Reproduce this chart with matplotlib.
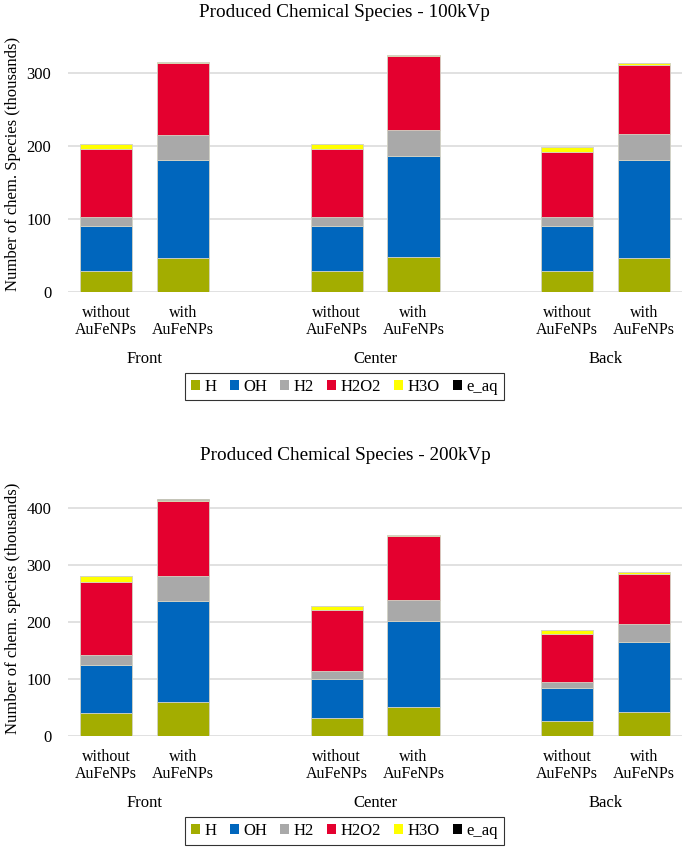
import numpy as np
import matplotlib.pyplot as plt
from matplotlib.transforms import blended_transform_factory

plt.rcParams['font.family'] = ['Liberation Serif', 'DejaVu Serif']

# bar order: Front w/o, Front with, Center w/o, Center with, Back w/o, Back with
bar_labels = ['without\nAuFeNPs', 'with\nAuFeNPs'] * 3
groups = ['Front', 'Center', 'Back']
species = ['H', 'OH', 'H2', 'H2O2', 'H3O', 'e_aq']
colors = ['#A3AD00', '#0066BD', '#A9A9A9', '#E4002F', '#FFFF00', '#000000']

# 100 kVp (thousands)
H_100 = [28.8, 46.6, 28.8, 47.5, 28.8, 46.1]
OH_100 = [62.1, 134.7, 62.1, 138.8, 61.2, 135.2]
H2_100 = [12.3, 34.2, 11.8, 35.2, 12.3, 34.7]
H2O2_100 = [92.7, 98.2, 93.2, 101.3, 89.0, 95.0]
H3O_100 = [6.8, 1.8, 6.4, 2.2, 7.3, 2.2]
eaq_100 = [0.2, 0.2, 0.2, 0.2, 0.2, 0.2]

# 200 kVp (thousands)
H_200 = [39.9, 59.8, 31.7, 51.0, 26.4, 42.2]
OH_200 = [85.6, 176.6, 68.0, 150.2, 58.1, 123.2]
H2_200 = [17.0, 45.1, 14.7, 38.1, 10.5, 30.5]
H2O2_200 = [127.3, 131.4, 106.7, 112.0, 85.0, 89.1]
H3O_200 = [10.6, 2.3, 6.5, 1.7, 6.5, 2.4]
eaq_200 = [0.3, 0.3, 0.3, 0.3, 0.3, 0.3]

# one blank slot between location groups
xpos = np.array([0, 1, 3, 4, 6, 7])


def draw(ax, series, title, ylabel, ymax, step):
    bottom = np.zeros(len(xpos))
    for name, vals, c in zip(species, series, colors):
        ax.bar(xpos, vals, 0.68, bottom=bottom, color=c, label=name,
               edgecolor='#D2D2C4', linewidth=0.6, zorder=3)
        bottom += np.array(vals)
    ax.set_xlim(-0.5, 7.5)
    ax.set_ylim(0, ymax)
    ax.set_yticks(np.arange(0, ymax, step))
    ax.grid(axis='y', color='#D9D9D9', linewidth=1.1, zorder=0)
    for s in ax.spines.values():
        s.set_visible(False)
    ax.tick_params(length=0, labelsize=12)
    ax.tick_params(axis='y', pad=12)
    ax.set_xticks(xpos)
    ax.set_xticklabels(bar_labels, fontsize=11.5, linespacing=1.15)
    ax.tick_params(axis='x', pad=9)
    ax.set_title(title, fontsize=13.8, pad=14, x=0.451)
    ax.set_ylabel(ylabel, fontsize=12, labelpad=4)
    tr = blended_transform_factory(ax.transData, ax.transAxes)
    for g, x in zip(groups, [0.5, 3.5, 6.5]):
        ax.text(x, -0.262, g, transform=tr, ha='center', va='center', fontsize=12)
    leg = ax.legend(loc='center', bbox_to_anchor=(0.45, -0.37), ncol=6,
                    fontsize=12, frameon=True, fancybox=False, edgecolor='black',
                    handlelength=0.55, handleheight=0.55, handletextpad=0.25,
                    columnspacing=0.8, borderpad=0.35)
    leg.get_frame().set_linewidth(0.8)
    for h in leg.legend_handles:
        h.set_edgecolor('none')


fig = plt.figure(figsize=(6.85, 8.49), dpi=100)
ax1 = fig.add_axes([0.099, 0.656, 0.897, 0.301])
ax2 = fig.add_axes([0.099, 0.133, 0.897, 0.302])

draw(ax1, [H_100, OH_100, H2_100, H2O2_100, H3O_100, eaq_100],
     'Produced Chemical Species - 100kVp', 'Number of chem. Species (thousands)', 350, 100)
draw(ax2, [H_200, OH_200, H2_200, H2O2_200, H3O_200, eaq_200],
     'Produced Chemical Species - 200kVp', 'Number of chem. species (thousands)', 450, 100)

fig.savefig('out.png', dpi=100)
